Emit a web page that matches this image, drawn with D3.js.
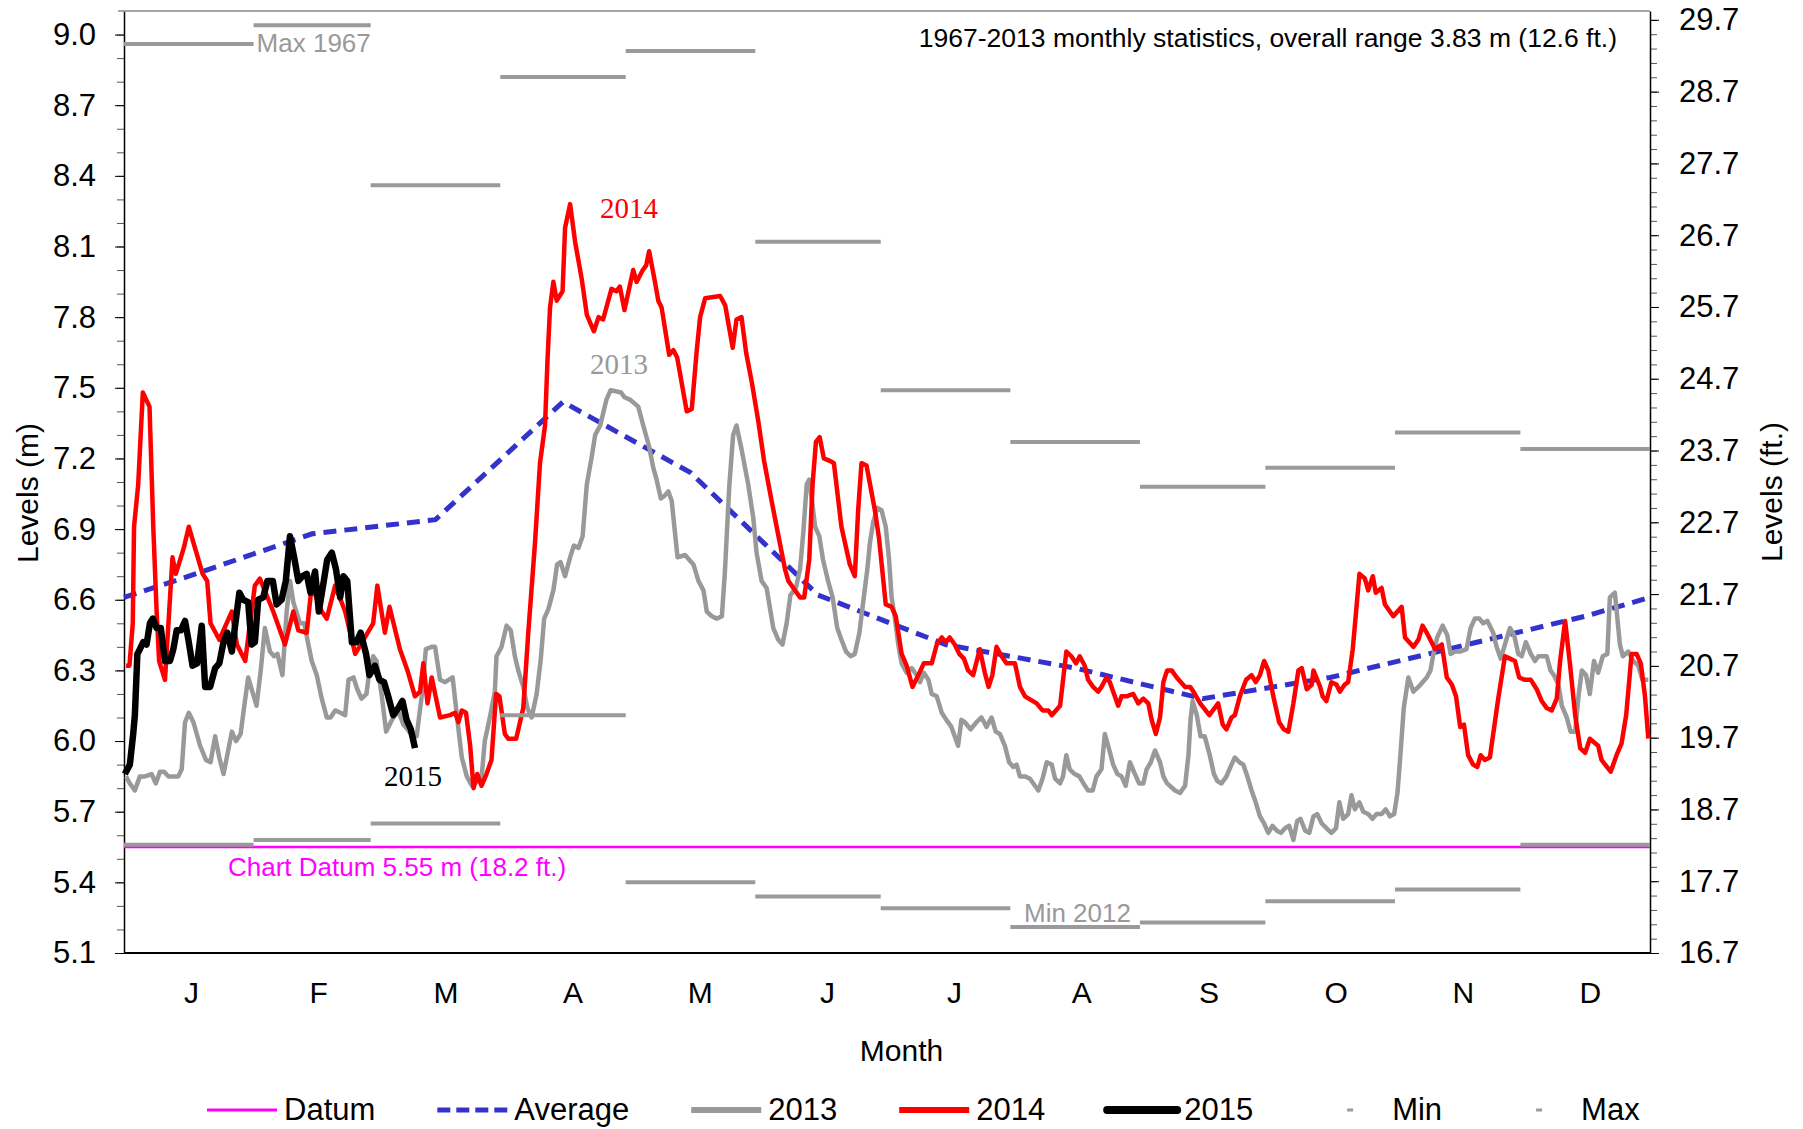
<!DOCTYPE html>
<html>
<head>
<meta charset="utf-8">
<script src="https://cdn.jsdelivr.net/npm/d3@7"></script>
<style>
  body { margin: 0; background: #fff; }
  text { font-family: "Liberation Sans", Arial, sans-serif; }
</style>
</head>
<body>
<div id="chart"></div>
<script>
// monthly water levels, metres, day-of-year on x

var months = ["J", "F", "M", "A", "M", "J", "J", "A", "S", "O", "N", "D"];
var monthDays = [31, 28, 31, 30, 31, 30, 31, 31, 30, 31, 30, 31];

// 1967-2013 monthly stats
var avgLevel = [6.70, 6.88, 6.94, 7.44, 7.14, 6.62, 6.41, 6.31, 6.18, 6.27, 6.40, 6.53];
var avgYearEdge = 6.61;
var maxLevel = [8.96, 9.04, 8.36, 8.82, 8.93, 8.12, 7.49, 7.27, 7.08, 7.16, 7.31, 7.24];
var minLevel = [5.56, 5.58, 5.65, 6.11, 5.40, 5.34, 5.29, 5.21, 5.23, 5.32, 5.37, 5.56];
var datum = 5.55;

var yTicksM = [5.1, 5.4, 5.7, 6.0, 6.3, 6.6, 6.9, 7.2, 7.5, 7.8, 8.1, 8.4, 8.7, 9.0];
var yTicksFt = [16.7, 17.7, 18.7, 19.7, 20.7, 21.7, 22.7, 23.7, 24.7, 25.7, 26.7, 27.7, 28.7, 29.7];

// [day of year, level m]
var level2013 = [[0.5,5.85],[1.4,5.82],[2.6,5.79],[3.8,5.85],[5.0,5.85],[6.6,5.86],[7.6,5.82],[8.6,5.87],[9.6,5.87],[10.6,5.85],[12.0,5.85],[13.0,5.85],[13.8,5.88],[14.6,6.08],[15.5,6.12],[16.6,6.08],[18.2,5.98],[19.6,5.92],[20.7,5.91],[21.8,6.02],[22.8,5.93],[23.8,5.86],[24.7,5.94],[25.8,6.04],[26.8,6.00],[27.9,6.03],[28.7,6.14],[29.7,6.27],[31.7,6.15],[32.7,6.30],[33.7,6.48],[34.9,6.38],[35.9,6.36],[36.7,6.37],[37.9,6.28],[38.9,6.55],[39.7,6.68],[40.5,6.59],[42.1,6.50],[43.1,6.50],[44.1,6.41],[44.9,6.34],[46.1,6.28],[47.3,6.18],[48.5,6.10],[49.4,6.10],[50.5,6.13],[51.8,6.12],[52.9,6.11],[53.7,6.26],[54.9,6.27],[55.8,6.22],[56.8,6.18],[58.0,6.20],[58.7,6.30],[59.6,6.36],[60.4,6.34],[61.6,6.20],[62.7,6.04],[63.8,6.08],[64.8,6.11],[65.8,6.12],[66.8,6.07],[67.8,6.05],[69.0,6.02],[70.0,6.02],[71.2,6.19],[72.2,6.39],[73.6,6.40],[74.4,6.40],[75.6,6.26],[76.8,6.25],[78.6,6.27],[80.0,6.05],[80.8,5.93],[82.0,5.85],[83.2,5.81],[85.5,5.84],[86.3,6.00],[87.5,6.10],[88.7,6.21],[89.1,6.36],[90.3,6.40],[91.5,6.49],[92.5,6.47],[93.5,6.36],[94.3,6.30],[95.5,6.23],[96.5,6.14],[97.5,6.10],[98.7,6.20],[99.7,6.35],[100.5,6.52],[101.5,6.56],[102.7,6.64],[103.6,6.75],[104.4,6.76],[105.5,6.70],[106.7,6.78],[107.6,6.83],[108.7,6.82],[109.7,6.87],[110.7,7.09],[111.9,7.21],[112.7,7.30],[113.9,7.34],[115.4,7.45],[116.4,7.49],[118.9,7.48],[119.7,7.46],[121.0,7.45],[123.0,7.42],[124.2,7.34],[125.6,7.25],[126.6,7.16],[127.4,7.11],[128.4,7.03],[129.2,7.04],[130.2,7.06],[131.0,7.02],[132.4,6.78],[134.2,6.79],[135.2,6.77],[136.2,6.75],[137.4,6.68],[138.6,6.64],[139.4,6.55],[140.6,6.53],[141.8,6.52],[143.0,6.53],[143.7,6.71],[144.8,7.09],[145.7,7.30],[146.5,7.34],[147.7,7.24],[149.3,7.09],[150.5,6.95],[151.3,6.80],[152.5,6.68],[153.7,6.65],[155.3,6.48],[156.5,6.43],[157.5,6.41],[158.5,6.50],[159.4,6.62],[160.7,6.65],[161.7,6.73],[162.5,6.89],[163.3,7.09],[163.9,7.11],[164.7,7.00],[165.3,6.91],[166.3,6.87],[167.2,6.77],[168.4,6.68],[169.5,6.61],[170.6,6.48],[171.6,6.43],[172.7,6.38],[173.8,6.36],[174.8,6.37],[175.9,6.46],[176.8,6.59],[177.8,6.73],[178.4,6.84],[179.2,6.93],[180.2,6.99],[181.2,6.98],[182.2,6.91],[183.0,6.77],[183.6,6.61],[184.4,6.52],[185.2,6.41],[186.0,6.33],[187.2,6.29],[188.4,6.31],[189.6,6.28],[190.4,6.25],[191.3,6.29],[192.4,6.26],[193.2,6.20],[194.4,6.19],[195.6,6.12],[196.7,6.09],[197.9,6.06],[198.7,6.02],[199.5,5.98],[200.3,6.09],[201.1,6.08],[202.5,6.05],[203.9,6.08],[205.1,6.10],[206.3,6.06],[207.5,6.10],[208.5,6.04],[209.5,6.03],[210.7,5.98],[211.7,5.91],[212.7,5.89],[213.5,5.90],[214.3,5.85],[215.5,5.85],[216.7,5.84],[218.7,5.79],[219.7,5.84],[220.7,5.91],[221.9,5.90],[222.7,5.84],[223.9,5.82],[224.6,5.85],[225.4,5.94],[226.2,5.88],[227.4,5.86],[228.5,5.85],[229.5,5.82],[230.6,5.79],[231.7,5.79],[232.6,5.85],[233.8,5.88],[234.6,6.03],[235.4,5.98],[236.6,5.90],[237.6,5.86],[238.6,5.85],[239.6,5.81],[240.6,5.91],[241.8,5.86],[242.8,5.82],[243.8,5.82],[244.6,5.88],[245.6,5.91],[246.6,5.96],[247.8,5.91],[248.6,5.85],[249.5,5.82],[251.4,5.79],[252.6,5.78],[253.8,5.81],[254.6,5.94],[255.1,6.09],[255.6,6.17],[256.6,6.11],[257.5,6.02],[258.5,6.02],[259.7,5.94],[260.7,5.86],[261.5,5.83],[262.5,5.82],[263.7,5.85],[264.9,5.90],[265.7,5.93],[266.8,5.91],[267.7,5.90],[268.7,5.85],[269.7,5.79],[270.7,5.74],[271.7,5.68],[272.7,5.65],[273.7,5.61],[274.7,5.64],[275.7,5.62],[276.7,5.61],[277.7,5.63],[278.7,5.64],[279.7,5.58],[280.6,5.66],[281.4,5.67],[282.5,5.62],[283.5,5.61],[284.5,5.68],[285.4,5.69],[286.5,5.65],[287.6,5.63],[288.8,5.61],[289.9,5.63],[290.7,5.74],[291.6,5.67],[292.8,5.69],[293.6,5.77],[294.4,5.71],[295.5,5.74],[296.4,5.70],[297.6,5.69],[298.6,5.67],[299.6,5.69],[300.8,5.69],[301.8,5.71],[302.8,5.68],[303.8,5.69],[304.6,5.78],[305.3,5.94],[306.1,6.14],[307.2,6.27],[308.4,6.21],[309.6,6.23],[310.6,6.25],[311.6,6.27],[312.5,6.30],[313.2,6.37],[314.1,6.44],[315.4,6.49],[316.5,6.45],[317.3,6.37],[318.4,6.38],[319.6,6.38],[321.1,6.39],[322.1,6.48],[323.1,6.52],[324.2,6.52],[325.1,6.50],[326.1,6.51],[327.5,6.46],[328.3,6.40],[329.3,6.35],[330.3,6.41],[331.5,6.48],[332.5,6.45],[333.5,6.37],[334.3,6.36],[335.3,6.42],[336.5,6.37],[337.5,6.34],[338.3,6.36],[339.1,6.36],[340.3,6.36],[341.2,6.30],[342.0,6.28],[343.1,6.24],[343.9,6.15],[345.1,6.10],[346.0,6.04],[347.1,6.04],[347.9,6.19],[348.7,6.30],[349.7,6.28],[350.6,6.20],[351.6,6.34],[352.6,6.29],[353.7,6.36],[354.8,6.37],[355.4,6.61],[356.6,6.63],[357.8,6.41],[358.5,6.36],[359.8,6.38],[361.0,6.34],[362.2,6.32],[363.2,6.26],[364.6,6.26]];

var level2014 = [[0.5,6.32],[1.3,6.32],[2.1,6.50],[2.4,6.91],[3.4,7.09],[4.5,7.48],[6.1,7.42],[7.0,6.91],[7.8,6.55],[8.4,6.34],[9.8,6.26],[11.6,6.78],[12.4,6.71],[14.3,6.82],[15.5,6.91],[18.8,6.71],[19.9,6.68],[20.7,6.50],[22.8,6.43],[25.8,6.55],[27.0,6.41],[29.0,6.34],[31.3,6.66],[32.5,6.69],[35.7,6.55],[38.5,6.41],[40.5,6.55],[41.7,6.47],[43.7,6.46],[44.9,6.66],[47.3,6.55],[48.5,6.52],[50.5,6.66],[52.9,6.55],[55.3,6.37],[59.6,6.50],[60.6,6.66],[62.4,6.46],[63.5,6.57],[66.0,6.39],[67.8,6.30],[69.6,6.19],[70.8,6.21],[71.6,6.33],[72.6,6.16],[73.6,6.27],[75.6,6.10],[78.0,6.11],[79.2,6.12],[80.0,6.08],[80.8,6.13],[81.8,6.12],[82.8,5.98],[83.6,5.80],[84.5,5.86],[85.5,5.81],[86.7,5.86],[87.9,5.92],[89.0,6.20],[89.8,6.19],[91.1,6.03],[91.9,6.01],[93.8,6.01],[95.5,6.14],[96.7,6.46],[98.3,6.84],[99.5,7.18],[100.7,7.34],[101.3,7.62],[101.9,7.84],[102.7,7.95],[103.5,7.87],[104.9,7.91],[105.5,8.18],[106.7,8.28],[107.9,8.12],[109.5,7.96],[110.7,7.81],[112.4,7.74],[113.5,7.80],[114.6,7.79],[116.6,7.92],[117.8,7.91],[118.6,7.93],[119.7,7.83],[121.8,8.00],[122.6,7.95],[124.1,8.00],[124.9,8.02],[125.6,8.08],[127.0,7.95],[127.8,7.87],[128.6,7.84],[130.4,7.64],[131.4,7.66],[132.3,7.63],[134.6,7.40],[135.8,7.41],[137.0,7.66],[137.8,7.80],[139.0,7.88],[142.6,7.89],[143.8,7.85],[145.6,7.67],[146.5,7.79],[147.7,7.80],[148.8,7.65],[150.2,7.52],[151.7,7.36],[153.1,7.19],[154.9,7.02],[156.1,6.91],[158.1,6.73],[158.9,6.68],[160.1,6.65],[161.7,6.61],[162.7,6.61],[163.9,6.77],[164.7,7.09],[165.5,7.27],[166.4,7.29],[167.4,7.20],[168.8,7.19],[169.8,7.18],[171.6,6.91],[173.6,6.75],[174.8,6.70],[175.6,6.98],[176.4,7.18],[177.6,7.17],[179.6,6.98],[180.6,6.86],[182.2,6.58],[183.6,6.57],[184.6,6.53],[186.0,6.37],[187.2,6.32],[188.6,6.23],[190.0,6.28],[191.3,6.33],[193.2,6.33],[194.4,6.41],[195.6,6.44],[196.6,6.42],[197.5,6.44],[198.7,6.41],[199.8,6.37],[200.9,6.35],[201.9,6.30],[203.1,6.28],[204.7,6.39],[205.9,6.29],[206.8,6.23],[207.7,6.28],[208.7,6.40],[209.9,6.36],[211.1,6.33],[213.1,6.33],[214.3,6.23],[215.5,6.19],[218.3,6.16],[219.7,6.13],[221.1,6.13],[221.9,6.11],[223.9,6.15],[225.4,6.38],[226.6,6.36],[227.7,6.33],[228.6,6.36],[229.8,6.32],[230.6,6.26],[231.8,6.23],[233.0,6.21],[233.8,6.23],[235.0,6.27],[235.8,6.25],[237.8,6.15],[238.6,6.19],[239.8,6.19],[241.4,6.20],[242.6,6.16],[243.8,6.18],[245.0,6.16],[245.8,6.09],[246.8,6.03],[247.8,6.10],[248.6,6.25],[249.5,6.30],[250.6,6.30],[251.8,6.27],[253.8,6.23],[255.0,6.23],[255.8,6.21],[257.4,6.16],[259.6,6.11],[261.7,6.16],[262.8,6.07],[263.7,6.05],[264.9,6.10],[265.7,6.11],[266.9,6.19],[268.4,6.26],[269.7,6.28],[270.7,6.25],[271.7,6.28],[272.7,6.34],[273.7,6.30],[274.9,6.19],[276.3,6.08],[277.4,6.05],[278.5,6.04],[279.7,6.16],[280.9,6.30],[281.7,6.31],[282.9,6.22],[284.1,6.24],[284.5,6.30],[286.1,6.23],[286.7,6.19],[287.6,6.17],[288.8,6.25],[290.0,6.24],[290.8,6.21],[292.0,6.24],[292.8,6.25],[293.9,6.39],[295.5,6.71],[296.8,6.69],[297.6,6.64],[298.7,6.70],[299.4,6.63],[300.8,6.65],[301.6,6.58],[303.6,6.53],[305.6,6.57],[306.4,6.44],[308.4,6.40],[309.6,6.43],[310.6,6.49],[311.6,6.46],[313.6,6.39],[315.2,6.41],[316.4,6.27],[317.6,6.24],[318.6,6.19],[319.6,6.06],[320.5,6.07],[321.5,5.94],[322.7,5.90],[323.7,5.89],[324.5,5.94],[325.5,5.92],[326.7,5.93],[328.7,6.18],[330.3,6.36],[331.5,6.35],[332.7,6.34],[333.7,6.27],[335.1,6.26],[336.5,6.26],[337.9,6.22],[339.1,6.17],[340.3,6.14],[341.5,6.13],[342.7,6.18],[343.5,6.34],[344.7,6.51],[345.9,6.32],[347.1,6.11],[348.3,5.97],[349.5,5.95],[350.6,6.01],[352.6,5.98],[353.4,5.92],[355.6,5.87],[357.0,5.94],[358.2,5.99],[359.3,6.11],[360.6,6.37],[361.8,6.37],[362.8,6.33],[363.8,6.19],[364.6,6.01]];

var level2015 = [[0.2,5.86],[1.4,5.90],[2.2,6.03],[2.6,6.11],[3.2,6.37],[3.8,6.39],[4.6,6.42],[5.4,6.41],[6.2,6.50],[6.9,6.52],[7.8,6.48],[8.8,6.48],[9.8,6.34],[11.0,6.34],[11.8,6.39],[12.6,6.47],[13.6,6.47],[14.6,6.51],[15.4,6.43],[16.4,6.32],[17.5,6.33],[18.6,6.49],[19.4,6.23],[20.6,6.23],[21.8,6.31],[22.8,6.33],[23.8,6.42],[24.7,6.46],[25.8,6.38],[26.5,6.48],[27.6,6.63],[28.5,6.60],[29.7,6.59],[30.5,6.41],[31.3,6.42],[32.1,6.60],[33.3,6.61],[34.3,6.68],[35.6,6.68],[36.5,6.58],[37.7,6.60],[38.7,6.68],[39.7,6.87],[40.7,6.78],[41.7,6.68],[42.7,6.70],[43.7,6.71],[44.6,6.63],[45.7,6.72],[46.6,6.55],[47.7,6.67],[48.6,6.77],[49.7,6.80],[50.7,6.73],[51.7,6.61],[52.5,6.70],[53.4,6.68],[54.5,6.42],[55.6,6.42],[56.6,6.46],[57.9,6.37],[58.7,6.28],[60.0,6.32],[61.1,6.26],[62.2,6.25],[63.2,6.19],[64.4,6.11],[65.6,6.14],[66.6,6.17],[67.6,6.09],[68.6,6.05],[69.6,5.97]];

var width = 1803,
    height = 1129,
    plotLeft = 124,
    plotRight = 1650,
    plotTop = 11,
    plotBottom = 953;

var svg = d3.select("#chart").append("svg")
    .attr("width", width)
    .attr("height", height);

var x = d3.scaleLinear().domain([0, 365]).range([plotLeft, plotRight]);
var y = d3.scaleLinear().domain([5.1, 9.1]).range([plotBottom, plotTop]);
// same span in feet on the right
var yFt = d3.scaleLinear().domain([16.7, 16.7 + 4.0 / 0.3048]).range([plotBottom, plotTop]);

var monthEnd = d3.cumsum(monthDays);
var monthStart = monthDays.map(function(d, i) { return monthEnd[i] - d; });

var line = d3.line()
    .x(function(d) { return x(d[0]); })
    .y(function(d) { return y(d[1]); });

// axes
var minorM = d3.range(51, 91).map(function(d) { return d / 10; });
var minorFt = d3.range(167, 299, 2).map(function(d) { return d / 10; });

function styleAxis(g, size) {
    g.attr("font-size", null).attr("font-family", null);
    g.selectAll("text").style("font-size", size + "px").attr("fill", "#000");
    g.select(".domain").attr("stroke", "#000").attr("stroke-width", 1.5);
}

svg.append("g")
    .attr("transform", "translate(" + plotLeft + ",0)")
    .call(d3.axisLeft(y).tickValues(minorM).tickSize(7).tickSizeOuter(0).tickFormat(""))
    .call(function(g) { g.select(".domain").remove(); g.selectAll("line").attr("stroke", "#555"); });

svg.append("g")
    .attr("transform", "translate(" + plotRight + ",0)")
    .call(d3.axisRight(yFt).tickValues(minorFt).tickSize(7).tickSizeOuter(0).tickFormat(""))
    .call(function(g) { g.select(".domain").remove(); g.selectAll("line").attr("stroke", "#555"); });

svg.append("g")
    .attr("transform", "translate(" + plotLeft + ",0)")
    .call(d3.axisLeft(y).tickValues(yTicksM).tickFormat(d3.format(".1f")).tickSize(9).tickSizeOuter(0).tickPadding(19))
    .call(styleAxis, 31);

svg.append("g")
    .attr("transform", "translate(" + plotRight + ",0)")
    .call(d3.axisRight(yFt).tickValues(yTicksFt).tickFormat(d3.format(".1f")).tickSize(9).tickSizeOuter(0).tickPadding(20))
    .call(styleAxis, 31);

// frame top and bottom
svg.append("line")
    .attr("x1", plotLeft - 6).attr("x2", plotRight)
    .attr("y1", plotTop).attr("y2", plotTop)
    .attr("stroke", "#888").attr("stroke-width", 1.5);
svg.append("line")
    .attr("x1", plotLeft).attr("x2", plotRight)
    .attr("y1", plotBottom).attr("y2", plotBottom)
    .attr("stroke", "#000").attr("stroke-width", 2);

// month labels
var band = d3.scaleBand().domain(d3.range(12)).range([plotLeft, plotRight]);
svg.append("g").selectAll("text")
    .data(months)
    .enter().append("text")
    .attr("x", function(d, i) { return band(i) + band.bandwidth() / 2 + 4; })
    .attr("y", 1003)
    .attr("text-anchor", "middle")
    .style("font-size", "30px")
    .text(function(d) { return d; });

svg.append("text")
    .attr("x", width / 2).attr("y", 1061)
    .attr("text-anchor", "middle")
    .style("font-size", "30px")
    .text("Month");

svg.append("text")
    .attr("transform", "translate(27,493) rotate(-90)")
    .attr("text-anchor", "middle")
    .attr("dominant-baseline", "central")
    .style("font-size", "30px")
    .text("Levels (m)");

svg.append("text")
    .attr("transform", "translate(1771,492) rotate(-90)")
    .attr("text-anchor", "middle")
    .attr("dominant-baseline", "central")
    .style("font-size", "30px")
    .text("Levels (ft.)");

// datum
svg.append("line")
    .attr("x1", x(0)).attr("x2", x(365))
    .attr("y1", y(datum)).attr("y2", y(datum))
    .attr("stroke", "#ff00ff").attr("stroke-width", 2.5);

// average, drawn through mid-month points
var avgPoints = [[0, avgYearEdge]]
    .concat(avgLevel.map(function(v, i) { return [monthStart[i] + monthDays[i] / 2, v]; }))
    .concat([[365, avgYearEdge]]);

svg.append("path")
    .datum(avgPoints)
    .attr("d", line)
    .attr("fill", "none")
    .attr("stroke", "#3333cc")
    .attr("stroke-width", 5)
    .attr("stroke-dasharray", "13,8");

var series = [
    { data: level2013, color: "#999999", w: 4.5 },
    { data: level2014, color: "#ff0000", w: 4.5 },
    { data: level2015, color: "#000000", w: 6.5 }
];

series.forEach(function(s) {
    svg.append("path")
        .datum(s.data)
        .attr("d", line)
        .attr("fill", "none")
        .attr("stroke", s.color)
        .attr("stroke-width", s.w)
        .attr("stroke-linejoin", "round");
});

// monthly min / max bars
[minLevel, maxLevel].forEach(function(arr) {
    svg.append("g").selectAll("line")
        .data(arr)
        .enter().append("line")
        .attr("x1", function(d, i) { return x(monthStart[i]); })
        .attr("x2", function(d, i) { return x(monthEnd[i]); })
        .attr("y1", function(d) { return y(d); })
        .attr("y2", function(d) { return y(d); })
        .attr("stroke", "#9a9a9a")
        .attr("stroke-width", 4);
});

// annotations
svg.append("text")
    .attr("x", 1617).attr("y", 47)
    .attr("text-anchor", "end")
    .style("font-size", "26.5px")
    .text("1967-2013 monthly statistics, overall range 3.83 m (12.6 ft.)");

svg.append("text")
    .attr("x", x(monthStart[1]) + 3).attr("y", 52)
    .attr("fill", "#999")
    .style("font-size", "26px")
    .text("Max 1967");

svg.append("text")
    .attr("x", 1024).attr("y", 922)
    .attr("fill", "#999")
    .style("font-size", "26px")
    .text("Min 2012");

svg.append("text")
    .attr("x", 228).attr("y", 876)
    .attr("fill", "#ff00ff")
    .style("font-size", "26px")
    .text("Chart Datum 5.55 m (18.2 ft.)");

var yearLabels = [
    { text: "2014", color: "#ff0000", cx: 629, cy: 208 },
    { text: "2013", color: "#999999", cx: 619, cy: 364 },
    { text: "2015", color: "#000000", cx: 413, cy: 776 }
];
svg.append("g").selectAll("text")
    .data(yearLabels)
    .enter().append("text")
    .attr("x", function(d) { return d.cx; })
    .attr("y", function(d) { return d.cy + 10; })
    .attr("text-anchor", "middle")
    .attr("fill", function(d) { return d.color; })
    .style("font-family", "'Liberation Serif', 'Times New Roman', serif")
    .style("font-size", "29px")
    .text(function(d) { return d.text; });

// legend
var legendItems = [
    { label: "Datum", color: "#ff00ff", w: 3 },
    { label: "Average", color: "#3333cc", w: 5, dash: "13,6" },
    { label: "2013", color: "#999999", w: 6 },
    { label: "2014", color: "#ff0000", w: 6 },
    { label: "2015", color: "#000000", w: 8 },
    { label: "Min", color: "#9a9a9a", marker: true },
    { label: "Max", color: "#9a9a9a", marker: true }
];

var legend = svg.append("g");
var lx = 207, ly = 1110;
legendItems.forEach(function(item) {
    if (item.marker) {
        legend.append("rect")
            .attr("x", lx + 32).attr("y", ly - 1.5)
            .attr("width", 6).attr("height", 3)
            .attr("fill", item.color);
    } else {
        legend.append("line")
            .attr("x1", lx).attr("x2", lx + 70)
            .attr("y1", ly).attr("y2", ly)
            .attr("stroke", item.color)
            .attr("stroke-width", item.w)
            .attr("stroke-linecap", item.w > 6 ? "round" : "butt")
            .attr("stroke-dasharray", item.dash || null);
    }
    var t = legend.append("text")
        .attr("x", lx + 77).attr("y", ly + 10)
        .style("font-size", "31px")
        .text(item.label);
    lx = lx + 77 + t.node().getComputedTextLength() + 62;
});
</script>
</body>
</html>
